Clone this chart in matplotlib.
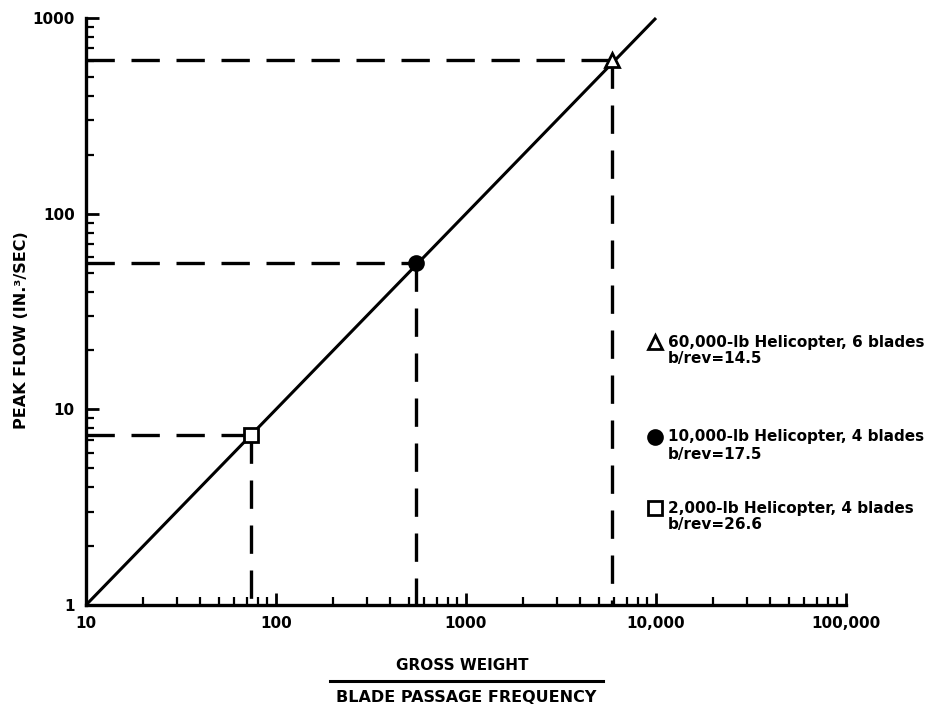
import matplotlib
matplotlib.use("Agg")
import matplotlib.pyplot as plt
from matplotlib.ticker import FixedLocator, LogLocator, NullFormatter

# Ratio of gross weight to blade passage frequency, and peak flow (in.^3/sec)
ratio = [74, 545, 5900]
peak_flow = [7.4, 56, 610]
markers = ["s", "o", "^"]
fills = ["white", "black", "white"]

# Correlation line (peak flow proportional to ratio)
line_x = [10, 10000]
line_y = [1, 1000]

legend_lines = [
    ("^", "white", "60,000-lb Helicopter, 6 blades", "b/rev=14.5"),
    ("o", "black", "10,000-lb Helicopter, 4 blades", "b/rev=17.5"),
    ("s", "white", "2,000-lb Helicopter, 4 blades", "b/rev=26.6"),
]

x_ticks = [10, 100, 1000, 10000, 100000]
x_tick_labels = ["10", "100", "1000", "10,000", "100,000"]
y_ticks = [1, 10, 100, 1000]
y_tick_labels = ["1", "10", "100", "1000"]

plt.rcParams["font.family"] = ["DejaVu Sans"]
plt.rcParams["font.weight"] = "bold"

fig = plt.figure(figsize=(9.48, 7.08), dpi=100)
ax = fig.add_axes([86 / 948, 1 - 605 / 708, 760 / 948, 587 / 708])
ax.set_xscale("log")
ax.set_yscale("log")
ax.set_xlim(10, 100000)
ax.set_ylim(1, 1000)

for s in ("top", "right"):
    ax.spines[s].set_visible(False)
for s in ("left", "bottom"):
    ax.spines[s].set_linewidth(2.4)

ax.plot(line_x, line_y, color="black", lw=2.2, solid_capstyle="butt", clip_on=False, zorder=3)

dash = (8.5, 5)
for x, y, m, fc in zip(ratio, peak_flow, markers, fills):
    ax.plot([10, x], [y, y], color="black", lw=2.4, dashes=dash, zorder=2)
    ax.plot([x, x], [y, 1], color="black", lw=2.4, dashes=dash, zorder=2)
    ax.plot([x], [y], marker=m, ms=10, mfc=fc, mec="black", mew=2, zorder=4, clip_on=False)

ax.xaxis.set_major_locator(FixedLocator(x_ticks))
ax.set_xticklabels(x_tick_labels)
ax.yaxis.set_major_locator(FixedLocator(y_ticks))
ax.set_yticklabels(y_tick_labels)
ax.xaxis.set_minor_locator(LogLocator(base=10, subs=range(2, 10)))
ax.yaxis.set_minor_locator(LogLocator(base=10, subs=range(2, 10)))
ax.xaxis.set_minor_formatter(NullFormatter())
ax.yaxis.set_minor_formatter(NullFormatter())
ax.tick_params(which="major", direction="in", length=9, width=2, labelsize=11, pad=8)
ax.tick_params(which="minor", direction="in", length=6, width=1.6)
for lab in ax.get_xticklabels() + ax.get_yticklabels():
    lab.set_fontweight("bold")

ax.set_ylabel("PEAK FLOW (IN.\u00b3/SEC)", fontsize=11.5, fontweight="bold")
ax.yaxis.set_label_coords(-0.075, 0.468)

# Fraction-style x label
fig.text(462 / 948, 1 - 665 / 708, "GROSS WEIGHT", ha="center", va="center", fontsize=11, fontweight="bold")
fig.add_artist(plt.Line2D([330 / 948, 603 / 948], [1 - 681 / 708, 1 - 681 / 708], color="black", lw=2.2))
fig.text(466 / 948, 1 - 697 / 708, "BLADE PASSAGE FREQUENCY", ha="center", va="center", fontsize=11.5, fontweight="bold")

# Key at the right
key_rows = [342, 437, 508]
for (m, fc, l1, l2), py in zip(legend_lines, key_rows):
    fig.add_artist(plt.Line2D([655 / 948], [1 - py / 708], marker=m, ms=10, mfc=fc, mec="black", mew=2, ls="none"))
    fig.text(668 / 948, 1 - py / 708, l1, ha="left", va="center", fontsize=11, fontweight="bold")
    fig.text(668 / 948, 1 - (py + 17) / 708, l2, ha="left", va="center", fontsize=11, fontweight="bold")

fig.savefig("out.png", dpi=100, facecolor="white")
